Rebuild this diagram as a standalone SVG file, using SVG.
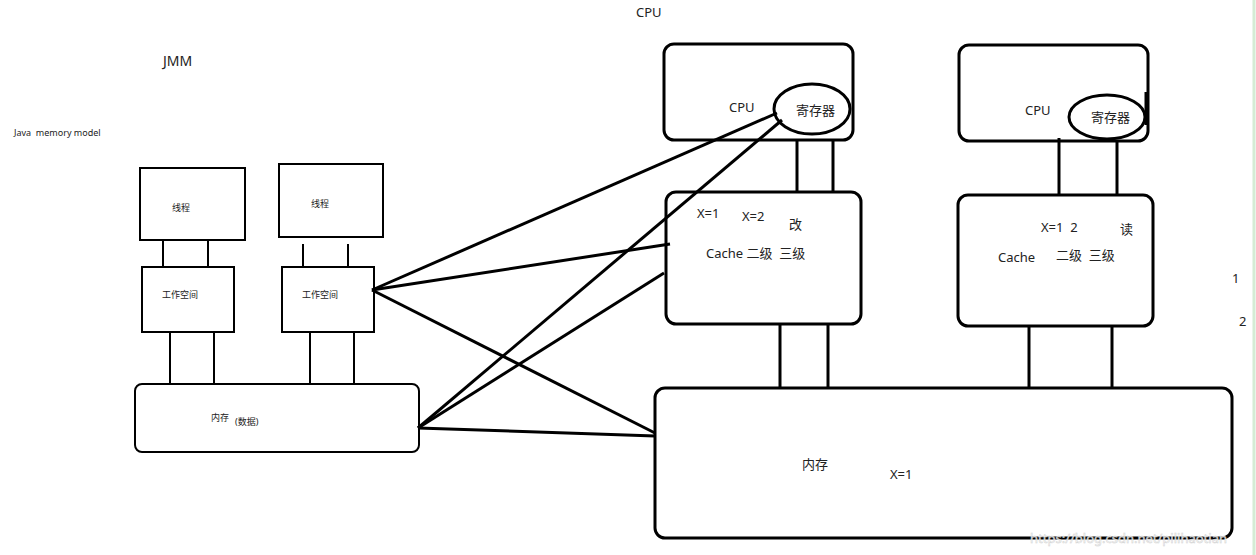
<svg xmlns="http://www.w3.org/2000/svg" width="1256" height="555" viewBox="0 0 1256 555">
<style>
.thin{fill:#fff;stroke:#000;stroke-width:2}
.thick{fill:#fff;stroke:#000;stroke-width:3}
.ln{stroke:#000;stroke-width:2;fill:none}
.lt{stroke:#000;stroke-width:3;fill:none}
text{font-family:"Noto Sans","Noto Sans CJK SC",sans-serif;fill:#222;white-space:pre}
.s{font-size:9px}
.m{font-size:13px}
</style>
<rect width="1256" height="555" fill="#fff"/>
<line x1="1254" y1="0" x2="1254" y2="555" stroke="#d4ecd4" stroke-width="3"/>
<text class="m" x="636" y="17">CPU</text>
<text x="163" y="66" font-size="14">JMM</text>
<text x="14" y="136" font-size="9">Java  memory model</text>

<g id="thread1"><rect class="thin" x="140" y="168" width="105" height="72"/><text class="s" x="172" y="211">线程</text></g>
<g id="thread2"><rect class="thin" x="279" y="164" width="104" height="73"/><text class="s" x="311" y="207">线程</text></g>
<g id="ws1"><rect class="thin" x="142" y="267" width="92" height="65"/><text class="s" x="162" y="298">工作空间</text></g>
<g id="ws2"><rect class="thin" x="282" y="267" width="92" height="65"/><text class="s" x="302" y="298">工作空间</text></g>
<g id="mem-jmm"><rect class="thin" x="135" y="384" width="284" height="68" rx="7"/><text class="s" x="211" y="421">内存</text><text class="s" x="235" y="425">(数据)</text></g>

<g id="cpu1"><rect class="thick" x="664" y="44" width="189" height="96" rx="10"/><text class="m" x="729" y="112">CPU</text>
<ellipse class="thick" cx="812" cy="109" rx="38" ry="25"/><text class="m" x="796" y="115">寄存器</text></g>
<g id="cpu2"><rect class="thick" x="959" y="45" width="189" height="96" rx="10"/><text class="m" x="1025" y="115">CPU</text>
<ellipse class="thick" cx="1107" cy="117" rx="38" ry="22"/><text class="m" x="1091" y="122">寄存器</text>
<line class="lt" x1="1146" y1="92" x2="1146" y2="125"/></g>
<g id="cache1"><rect class="thick" x="666" y="192" width="195" height="132" rx="10"/>
<text class="m" x="697" y="218">X=1</text><text class="m" x="742" y="221">X=2</text><text class="m" x="789" y="229">改</text>
<text class="m" x="706" y="258">Cache 二级  三级</text></g>
<g id="cache2"><rect class="thick" x="958" y="195" width="195" height="131" rx="10"/>
<text class="m" x="1041" y="232">X=1  2</text><text class="m" x="1120" y="234">读</text>
<text class="m" x="998" y="262">Cache</text><text class="m" x="1056" y="260">二级  三级</text></g>
<g id="mem-hw"><rect class="thick" x="655" y="388" width="577" height="150" rx="10"/>
<text class="m" x="802" y="469">内存</text><text class="m" x="890" y="479">X=1</text></g>

<g id="connectors">
<line class="ln" x1="163" y1="240" x2="163" y2="268"/>
<line class="ln" x1="208" y1="240" x2="208" y2="268"/>
<line class="ln" x1="303" y1="244" x2="303" y2="268"/>
<line class="ln" x1="348" y1="244" x2="348" y2="268"/>
<line class="ln" x1="170" y1="332" x2="170" y2="385"/>
<line class="ln" x1="214" y1="332" x2="214" y2="385"/>
<line class="ln" x1="310" y1="332" x2="310" y2="385"/>
<line class="ln" x1="354" y1="332" x2="354" y2="385"/>
<line class="lt" x1="797" y1="141" x2="797" y2="191"/>
<line class="lt" x1="833" y1="141" x2="833" y2="191"/>
<line class="lt" x1="1059" y1="138" x2="1059" y2="194"/>
<line class="lt" x1="1117" y1="142" x2="1117" y2="194"/>
<line class="lt" x1="780" y1="325" x2="780" y2="388"/>
<line class="lt" x1="828" y1="325" x2="828" y2="388"/>
<line class="lt" x1="1029" y1="327" x2="1029" y2="388"/>
<line class="lt" x1="1112" y1="327" x2="1112" y2="388"/>
<line class="lt" x1="372" y1="290" x2="777" y2="113"/>
<line class="lt" x1="372" y1="290" x2="670" y2="244"/>
<line class="lt" x1="372" y1="290" x2="655" y2="433"/>
<line class="lt" x1="418" y1="428" x2="782" y2="120"/>
<line class="lt" x1="418" y1="428" x2="664" y2="273"/>
<line class="lt" x1="418" y1="428" x2="655" y2="436"/>
</g>
<text class="m" x="1232" y="283">1</text>
<text class="m" x="1239" y="326">2</text>
<text x="1030" y="543" font-size="13" style="fill:#fff" stroke="#ccc" stroke-width="0.5" opacity="0.9">https://blog.csdn.net/pilihaotian</text>
</svg>
